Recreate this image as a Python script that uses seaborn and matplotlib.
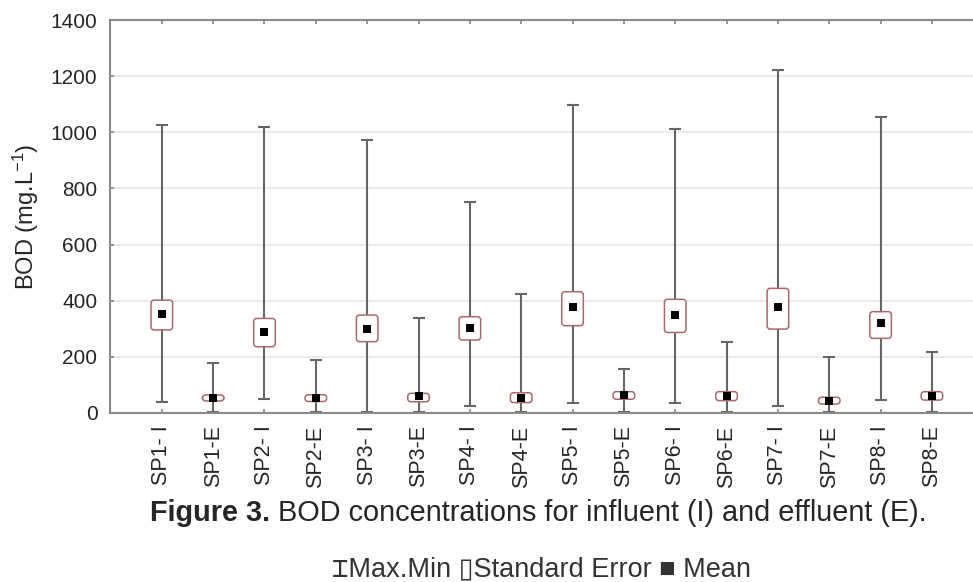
import numpy as np
import pandas as pd
import seaborn as sns
import matplotlib
matplotlib.use('Agg')
import matplotlib.pyplot as plt
from matplotlib.patches import FancyBboxPatch

# values (mg/L)
samples = ['SP1- I', 'SP1-E', 'SP2- I', 'SP2-E', 'SP3- I', 'SP3-E', 'SP4- I', 'SP4-E',
           'SP5- I', 'SP5-E', 'SP6- I', 'SP6-E', 'SP7- I', 'SP7-E', 'SP8- I', 'SP8-E']
max_vals = [1026, 177, 1018, 189, 972, 337, 750, 423, 1097, 156, 1010, 254, 1222, 198, 1055, 218]
min_vals = [40, 4, 50, 4, 2, 3, 26, 3, 37, 3, 34, 3, 25, 3, 46, 4]
se_upper = [402, 64, 337, 65, 349, 70, 343, 72, 432, 76, 405, 76, 444, 56, 361, 76]
se_lower = [296, 43, 236, 41, 254, 40, 260, 37, 311, 49, 287, 44, 299, 32, 266, 46]
mean_vals = [352, 54, 287, 54, 299, 61, 304, 54, 376, 63, 349, 61, 376, 44, 319, 62]

df = pd.DataFrame({'sample': samples, 'max': max_vals, 'min': min_vals,
                   'hi': se_upper, 'lo': se_lower, 'mean': mean_vals})
df['pos'] = np.arange(len(df))

sns.set_theme(style='white')
plt.rcParams['font.family'] = ['Liberation Sans', 'DejaVu Sans']
plt.rcParams['mathtext.default'] = 'regular'

spine_col = '#8a8a8a'
whisk_col = '#666666'
box_col = '#a8686e'
text_col = '#262626'

fig = plt.figure(figsize=(9.73, 5.82), dpi=100)
ax = fig.add_axes([0.113, 0.2904, 0.887, 0.6752])
ax.set_xlim(-1.01, 15.8)
ax.set_ylim(0, 1400)

# max/min whiskers
mid = (df['max'] + df['min']) / 2
half = (df['max'] - df['min']) / 2
ax.errorbar(df['pos'], mid, yerr=half, fmt='none', ecolor=whisk_col,
            elinewidth=1.5, capsize=4.5, capthick=1.5, zorder=2)

# standard error boxes with rounded corners
x0, x1 = ax.get_xlim()
y0, y1 = ax.get_ylim()
bb = ax.get_position()
w_px = bb.width * fig.get_figwidth() * fig.dpi
h_px = bb.height * fig.get_figheight() * fig.dpi
aspect = ((y1 - y0) / h_px) / ((x1 - x0) / w_px)
bw = 0.42
for _, r in df.iterrows():
    ax.add_patch(FancyBboxPatch((r['pos'] - bw / 2, r['lo']), bw, r['hi'] - r['lo'],
                                boxstyle='round,pad=0,rounding_size=0.06',
                                mutation_aspect=aspect, fc='white', ec=box_col,
                                lw=1.1, zorder=3))

# means
sns.scatterplot(data=df, x='pos', y='mean', marker='s', color='black', s=26,
                linewidth=0, ax=ax, zorder=4, legend=False)

ax.set_xticks(df['pos'])
ax.set_xticklabels(df['sample'], rotation=90, fontsize=15.5, color=text_col)
ax.set_yticks(np.arange(0, 1401, 200))
ax.tick_params(axis='y', left=True, direction='in', length=3, color=spine_col,
               pad=9, labelsize=15, labelcolor=text_col)
ax.tick_params(axis='x', top=True, bottom=True, direction='in', length=3,
               color=spine_col, pad=9)
ax.set_xlabel('')
ax.set_ylabel('BOD (mg.L$^{-1}$)', fontsize=17, color=text_col)
ax.yaxis.set_label_coords(-0.08, 0.5)

ax.yaxis.grid(True, color='#e6e6e6', lw=1.2)
ax.xaxis.grid(False)
ax.set_axisbelow(True)
for s in ['top', 'left', 'bottom']:
    ax.spines[s].set_color(spine_col)
    ax.spines[s].set_linewidth(1.5)
ax.spines['right'].set_visible(False)

# caption
t1 = fig.text(150 / 973, 1 - 521 / 582, 'Figure 3.', fontsize=20.8,
              fontweight='bold', va='baseline')
ax.annotate(' BOD concentrations for influent (I) and effluent (E).', xy=(1, 0),
            xycoords=t1, ha='left', va='bottom', fontsize=20.8, annotation_clip=False)

# legend line
fig.text(542 / 973, 1 - 576 / 582, '\u2336Max.Min \u25afStandard Error \u25a0 Mean',
         ha='center', va='baseline', fontsize=19.5, color='#333333',
         family=['Liberation Sans', 'DejaVu Sans', 'DejaVu Sans Mono'])

fig.savefig('out.png', dpi=100)
